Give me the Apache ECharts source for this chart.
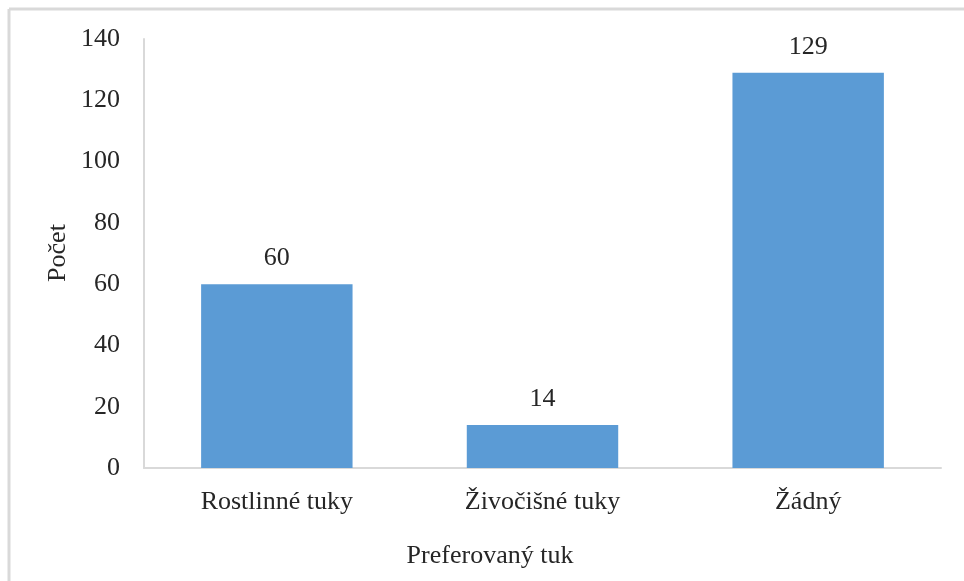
<!DOCTYPE html>
<html>
<head>
<meta charset="utf-8">
<script src="https://cdn.jsdelivr.net/npm/echarts@6/dist/echarts.min.js"></script>
<style>
  html, body { margin: 0; padding: 0; background: #fff; }
  #chart { width: 964px; height: 581px; }
</style>
</head>
<body>
<div id="chart"></div>
<script>
// Categories and counts
var categories = ['Rostlinné tuky', 'Živočišné tuky', 'Žádný'];
var counts = [60, 14, 129];
var yTicks = [0, 20, 40, 60, 80, 100, 120, 140];

var FONT = '"Liberation Serif", "Times New Roman", serif';
var TEXT = '#262626';
var FS = 26;

var chart = echarts.init(document.getElementById('chart'), null, { renderer: 'canvas' });

chart.setOption({
  animation: false,
  backgroundColor: '#ffffff',
  grid: { left: 144, right: 23, top: 39, bottom: 113 },
  xAxis: {
    type: 'category',
    data: categories,
    axisLine: { show: true, lineStyle: { color: '#d9d9d9', width: 2 } },
    axisTick: { show: false },
    axisLabel: { color: TEXT, fontFamily: FONT, fontSize: FS, margin: 21 }
  },
  yAxis: {
    type: 'value',
    min: yTicks[0],
    max: yTicks[yTicks.length - 1],
    interval: yTicks[1] - yTicks[0],
    axisLine: { show: true, lineStyle: { color: '#d9d9d9', width: 2 } },
    axisTick: { show: false },
    splitLine: { show: false },
    axisLabel: { color: TEXT, fontFamily: FONT, fontSize: FS, margin: 24 }
  },
  series: [{
    type: 'bar',
    data: counts,
    barWidth: '57%',
    itemStyle: { color: '#5b9bd5' },
    label: {
      show: true,
      position: 'top',
      distance: 13,
      color: TEXT,
      fontFamily: FONT,
      fontSize: FS
    }
  }],
  graphic: [
    // frame lines along the top and left edge
    { type: 'line', shape: { x1: 9, y1: 9, x2: 964, y2: 9 }, style: { stroke: '#d9d9d9', lineWidth: 3 } },
    { type: 'line', shape: { x1: 9, y1: 9, x2: 9, y2: 581 }, style: { stroke: '#d9d9d9', lineWidth: 3 } },
    // axis titles
    {
      type: 'text', x: 490, y: 556,
      style: { text: 'Preferovaný tuk', fill: TEXT, font: FS + 'px ' + FONT, textAlign: 'center', textVerticalAlign: 'middle' }
    },
    {
      type: 'text', x: 58, y: 253, rotation: Math.PI / 2,
      style: { text: 'Počet', fill: TEXT, font: FS + 'px ' + FONT, textAlign: 'center', textVerticalAlign: 'middle' }
    }
  ]
});
</script>
</body>
</html>
